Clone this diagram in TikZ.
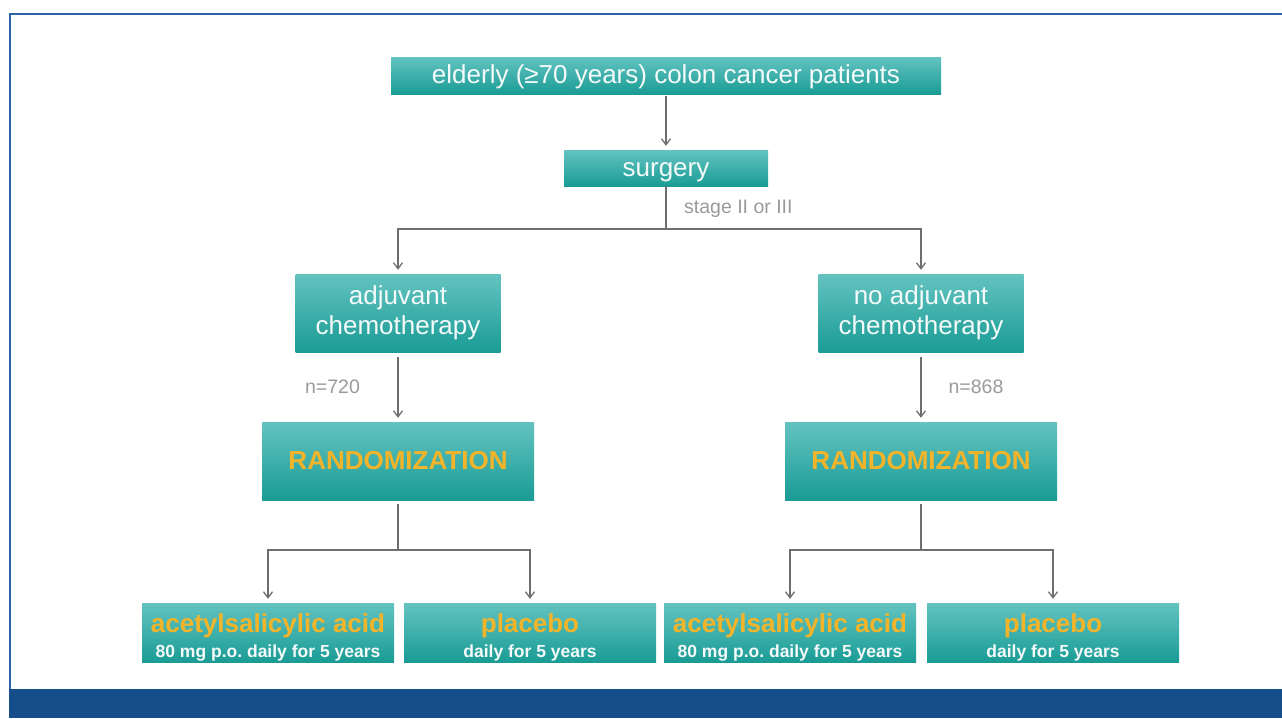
\documentclass[tikz,border=0pt]{standalone}
\usepackage{fontspec}
\setmainfont{Liberation Sans}
\usetikzlibrary{arrows.meta,positioning}
\definecolor{Frame}{HTML}{2B62A6}
\definecolor{Band}{HTML}{164E8A}
\definecolor{TealTop}{HTML}{63C3C0}
\definecolor{TealBot}{HTML}{1A9C95}
\definecolor{Gold}{HTML}{F4B42A}
\definecolor{Wire}{HTML}{6E6E6E}
\definecolor{Quiet}{HTML}{9A9A9A}
\definecolor{Snow}{HTML}{F4FAFA}
\newcommand{\armtitle}[1]{{\color{Gold}\fontsize{26}{25}\selectfont\bfseries\rule{0pt}{29pt}#1}}
\newcommand{\armnote}[1]{{\fontsize{17.5}{25}\selectfont\bfseries #1}}
\tikzset{
  tealbox/.style={rectangle,draw=none,top color=TealTop,bottom color=TealBot,text=Snow,
    inner sep=0pt,align=center,font=\fontsize{26}{30}\selectfont},
  onebox/.style={tealbox,text height=20pt,text depth=4pt},
  wire/.style={draw=Wire,line width=1.3pt},
  flow/.style={wire,-{Straight Barb[length=6pt,width=9pt]},shorten >=4pt},
  lbl/.style={text=Quiet,font=\fontsize{19.5}{22}\selectfont,inner sep=0pt},
}
\begin{document}
\begin{tikzpicture}[x=1pt,y=-1pt,
  randbox/.style={tealbox,minimum width=272,minimum height=78,text=Gold,font=\fontsize{26}{30}\selectfont\bfseries},
  armbox/.style={tealbox,minimum width=252,minimum height=59,font=\fontsize{17.5}{25}\selectfont}]
\path[use as bounding box] (0,0) rectangle (1282,718);
% frame and footer band
\draw[Frame,line width=2pt] (9.5,689) -- (9.5,14) -- (1282,14);
\fill[Band] (9,689) rectangle (1282,718);

% boxes
\node[onebox,minimum width=550,minimum height=37] (elderly) at (666,75.5) {elderly (≥70 years) colon cancer patients};
\node[onebox,minimum width=204,minimum height=36] (surgery) at (666,168) {surgery};
\node[tealbox,minimum width=205,minimum height=78] (adjchemo) at (398,313) {adjuvant\\chemotherapy};
\node[tealbox,minimum width=205,minimum height=78] (noadjchemo) at (921,313) {no adjuvant\\chemotherapy};
\node[randbox] (randleft) at (398,461) {RANDOMIZATION};
\node[randbox] (randright) at (921,461) {RANDOMIZATION};
\node[armbox] (asaleft) at (268,632.5) {\armtitle{acetylsalicylic acid}\\\armnote{80 mg p.o.\ daily for 5 years}};
\node[armbox] (plcleft) at (530,632.5) {\armtitle{placebo}\\\armnote{daily for 5 years}};
\node[armbox] (asaright) at (790,632.5) {\armtitle{acetylsalicylic acid}\\\armnote{80 mg p.o.\ daily for 5 years}};
\node[armbox] (plcright) at (1053,632.5) {\armtitle{placebo}\\\armnote{daily for 5 years}};

% junctions
\coordinate (stagesplit) at (666,229);
\coordinate (leftsplit) at (398,550);
\coordinate (rightsplit) at (921,550);

% connectors
\draw[flow,shorten <=2pt] (elderly.south) -- (surgery.north);
\draw[wire] (surgery.south) -- (stagesplit);
\draw[flow] (stagesplit) -| (adjchemo.north);
\draw[flow] (stagesplit) -| (noadjchemo.north);
\draw[flow,shorten <=5pt] (adjchemo.south) -- (randleft.north);
\draw[flow,shorten <=5pt] (noadjchemo.south) -- (randright.north);
\draw[wire,shorten <=4pt] (randleft.south) -- (leftsplit);
\draw[flow] (leftsplit) -| (asaleft.north);
\draw[flow] (leftsplit) -| (plcleft.north);
\draw[wire,shorten <=4pt] (randright.south) -- (rightsplit);
\draw[flow] (rightsplit) -| (asaright.north);
\draw[flow] (rightsplit) -| (plcright.north);

% labels
\node[lbl,anchor=west] (stagelbl) at (684,209) {stage II or III};
\node[lbl] (nleft) at (332.5,387) {n=720};
\node[lbl] (nright) at (976,387) {n=868};
\end{tikzpicture}
\end{document}
